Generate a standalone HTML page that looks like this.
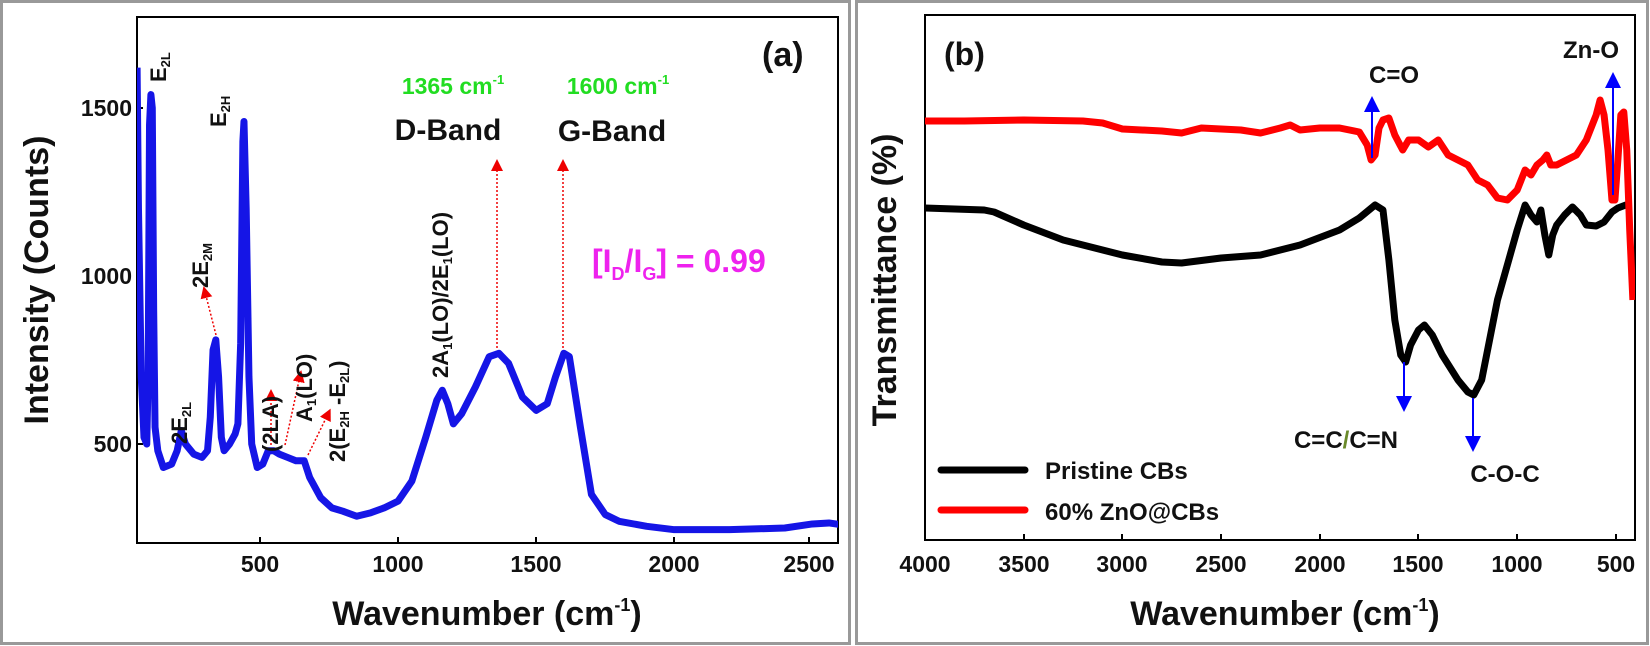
<!DOCTYPE html>
<html><head><meta charset="utf-8"><style>
body{margin:0;background:#fff}
svg{display:block;font-family:"Liberation Sans",Arial,sans-serif;font-weight:bold}
</style></head><body>
<svg width="1650" height="646" viewBox="0 0 1650 646">
<defs>
<marker id="ra" markerWidth="8" markerHeight="8" refX="4" refY="4" orient="auto"><path d="M0,0 L8,4 L0,8 z" fill="#e00"/></marker>
<marker id="ba" markerWidth="8" markerHeight="8" refX="4" refY="4" orient="auto"><path d="M0,0 L8,4 L0,8 z" fill="#00f"/></marker>
<clipPath id="ca"><rect x="137" y="17" width="701" height="526"/></clipPath>
<clipPath id="cb"><rect x="925" y="15" width="710" height="525"/></clipPath>
</defs>
<rect x="1.5" y="1.5" width="848" height="642" fill="none" stroke="#999" stroke-width="3"/>
<rect x="856.5" y="1.5" width="791" height="642" fill="none" stroke="#999" stroke-width="3"/>

<!-- Panel a -->
<rect x="137" y="17" width="701" height="526" fill="none" stroke="#000" stroke-width="2"/>
<g stroke="#000" stroke-width="2">
<line x1="260" y1="543" x2="260" y2="537"/><line x1="398" y1="543" x2="398" y2="537"/><line x1="536" y1="543" x2="536" y2="537"/><line x1="674" y1="543" x2="674" y2="537"/><line x1="809" y1="543" x2="809" y2="537"/>
<line x1="137" y1="108" x2="143" y2="108"/><line x1="137" y1="276" x2="143" y2="276"/><line x1="137" y1="444" x2="143" y2="444"/>
</g>
<g font-size="23" text-anchor="middle" fill="#111">
<text x="260" y="572">500</text><text x="398" y="572">1000</text><text x="536" y="572">1500</text><text x="674" y="572">2000</text><text x="809" y="572">2500</text>
</g>
<g font-size="23" text-anchor="end" fill="#111">
<text x="132" y="116">1500</text><text x="132" y="284">1000</text><text x="132" y="452">500</text>
</g>
<text x="487" y="625" font-size="34" text-anchor="middle" fill="#111">Wavenumber (cm<tspan font-size="18" dy="-14">-1</tspan><tspan dy="14">)</tspan></text>
<text transform="translate(48,280) rotate(-90)" font-size="34" text-anchor="middle" fill="#111">Intensity (Counts)</text>

<g clip-path="url(#ca)">
<g transform="translate(121.9,612) scale(0.2762,-0.336)">
<polyline fill="none" stroke="#1515e6" stroke-width="7" stroke-linejoin="round" vector-effect="non-scaling-stroke" points="55,1620 60,1200 70,700 80,520 90,500 95,700 100,1450 105,1540 110,1500 115,900 120,550 130,480 150,430 180,440 200,480 215,540 230,500 260,470 290,460 310,480 320,580 330,780 340,810 350,700 360,520 370,480 390,500 410,530 420,560 430,800 438,1400 442,1460 450,1200 460,700 470,500 490,430 510,440 530,480 550,480 570,470 600,460 630,450 660,450 680,400 720,340 760,310 800,300 850,285 900,295 950,310 1000,330 1050,390 1100,520 1140,630 1160,660 1180,620 1200,560 1230,590 1280,670 1330,760 1365,770 1400,740 1450,640 1500,600 1540,620 1570,700 1600,770 1620,760 1660,550 1700,350 1750,290 1800,270 1900,255 2000,245 2200,245 2400,250 2500,262 2560,265 2620,258"/>
</g>
</g>

<g stroke="#e00" stroke-width="1.5" stroke-dasharray="2,2" fill="none">
<line x1="216" y1="335" x2="205" y2="292" marker-end="url(#ra)"/>
<line x1="271" y1="445" x2="271" y2="395" marker-end="url(#ra)"/>
<line x1="285" y1="445" x2="300" y2="376" marker-end="url(#ra)"/>
<line x1="308" y1="455" x2="328" y2="414" marker-end="url(#ra)"/>
<line x1="497" y1="348" x2="497" y2="165" marker-end="url(#ra)"/>
<line x1="563" y1="348" x2="563" y2="165" marker-end="url(#ra)"/>
</g>
<g font-size="22" fill="#111">
<text transform="translate(166,82) rotate(-90)">E<tspan font-size="13" dy="4">2L</tspan></text>
<text transform="translate(226,127) rotate(-90)">E<tspan font-size="13" dy="4">2H</tspan></text>
<text transform="translate(208,288) rotate(-90)">2E<tspan font-size="13" dy="4">2M</tspan></text>
<text transform="translate(187,444) rotate(-90)">2E<tspan font-size="13" dy="4">2L</tspan></text>
<text transform="translate(278,452) rotate(-90)">(2LA)</text>
<text transform="translate(312,422) rotate(-90)">A<tspan font-size="13" dy="4">1</tspan><tspan dy="-4">(LO)</tspan></text>
<text transform="translate(345,462) rotate(-90)">2(E<tspan font-size="13" dy="4">2H</tspan><tspan dy="-4"> -E</tspan><tspan font-size="13" dy="4">2L</tspan><tspan dy="-4">)</tspan></text>
<text transform="translate(448,378) rotate(-90)">2A<tspan font-size="13" dy="4">1</tspan><tspan dy="-4">(LO)/2E</tspan><tspan font-size="13" dy="4">1</tspan><tspan dy="-4">(LO)</tspan></text>
</g>
<text x="453" y="94" font-size="23" fill="#22dd22" text-anchor="middle">1365 cm<tspan font-size="13" dy="-10">-1</tspan></text>
<text x="618" y="94" font-size="23" fill="#22dd22" text-anchor="middle">1600 cm<tspan font-size="13" dy="-10">-1</tspan></text>
<text x="448" y="140" font-size="30" fill="#111" text-anchor="middle">D-Band</text>
<text x="612" y="141" font-size="30" fill="#111" text-anchor="middle">G-Band</text>
<text x="592" y="272" font-size="32" fill="#ee22ee">[I<tspan font-size="18" dy="8">D</tspan><tspan dy="-8">/I</tspan><tspan font-size="18" dy="8">G</tspan><tspan dy="-8">] = 0.99</tspan></text>
<text x="762" y="66" font-size="34" fill="#111">(a)</text>

<!-- Panel b -->
<rect x="925" y="15" width="710" height="525" fill="none" stroke="#000" stroke-width="2"/>
<g stroke="#000" stroke-width="2">
<line x1="1024" y1="540" x2="1024" y2="534"/><line x1="1122" y1="540" x2="1122" y2="534"/><line x1="1221" y1="540" x2="1221" y2="534"/><line x1="1320" y1="540" x2="1320" y2="534"/><line x1="1418" y1="540" x2="1418" y2="534"/><line x1="1517" y1="540" x2="1517" y2="534"/><line x1="1616" y1="540" x2="1616" y2="534"/>
</g>
<g font-size="23" text-anchor="middle" fill="#111">
<text x="925" y="572">4000</text><text x="1024" y="572">3500</text><text x="1122" y="572">3000</text><text x="1221" y="572">2500</text><text x="1320" y="572">2000</text><text x="1418" y="572">1500</text><text x="1517" y="572">1000</text><text x="1616" y="572">500</text>
</g>
<text x="1285" y="625" font-size="34" text-anchor="middle" fill="#111">Wavenumber (cm<tspan font-size="18" dy="-14">-1</tspan><tspan dy="14">)</tspan></text>
<text transform="translate(896,280) rotate(-90)" font-size="34" text-anchor="middle" fill="#111">Transmittance (%)</text>

<g clip-path="url(#cb)">
<g transform="translate(1714.6,0) scale(-0.1974,1)">
<polyline fill="none" stroke="#000" stroke-width="7" stroke-linejoin="round" vector-effect="non-scaling-stroke" points="4000,208 3700,210 3650,212 3500,225 3300,240 3000,255 2800,262 2700,263 2500,258 2300,255 2100,245 1900,230 1800,218 1720,205 1680,210 1650,260 1620,320 1590,355 1565,362 1540,345 1500,330 1470,325 1430,335 1380,355 1300,380 1250,392 1220,395 1180,380 1100,300 1000,230 960,205 930,215 900,222 880,210 860,235 840,255 820,235 800,225 760,215 720,207 680,215 650,225 600,226 560,222 520,212 490,208 450,205 425,205"/>
<polyline fill="none" stroke="#f00" stroke-width="7" stroke-linejoin="round" vector-effect="non-scaling-stroke" points="4000,121 3800,121 3500,120 3200,121 3100,123 3000,129 2800,131 2700,133 2600,128 2400,130 2300,133 2200,128 2150,125 2100,130 2000,128 1900,128 1800,132 1760,145 1740,160 1720,155 1700,128 1680,120 1650,118 1620,135 1580,150 1550,140 1500,140 1450,147 1400,140 1350,155 1300,160 1250,165 1200,180 1150,185 1100,198 1050,200 1000,190 960,170 930,175 900,165 870,160 850,155 830,165 800,165 700,155 650,140 600,115 580,100 560,115 540,150 520,200 505,200 490,160 475,115 460,112 445,150 430,230 414,300"/>
</g>
</g>
<g stroke="#00f" stroke-width="2">
<line x1="1372" y1="158" x2="1372" y2="104" marker-end="url(#ba)"/>
<line x1="1613" y1="195" x2="1613" y2="80" marker-end="url(#ba)"/>
<line x1="1404" y1="362" x2="1404" y2="404" marker-end="url(#ba)"/>
<line x1="1473" y1="398" x2="1473" y2="444" marker-end="url(#ba)"/>
</g>
<g font-size="24" fill="#111" text-anchor="middle">
<text x="1394" y="83">C=O</text>
<text x="1591" y="58">Zn-O</text>
<text x="1346" y="448">C=C<tspan fill="#6a8a2a">/</tspan>C=N</text>
<text x="1505" y="482">C-O-C</text>
</g>
<text x="944" y="65" font-size="32" fill="#111">(b)</text>
<line x1="941" y1="470" x2="1025" y2="470" stroke="#000" stroke-width="7" stroke-linecap="round"/>
<line x1="941" y1="510" x2="1025" y2="510" stroke="#f00" stroke-width="7" stroke-linecap="round"/>
<text x="1045" y="479" font-size="24" fill="#111">Pristine CBs</text>
<text x="1045" y="520" font-size="24" fill="#111">60% ZnO@CBs</text>
</svg>
</body></html>
